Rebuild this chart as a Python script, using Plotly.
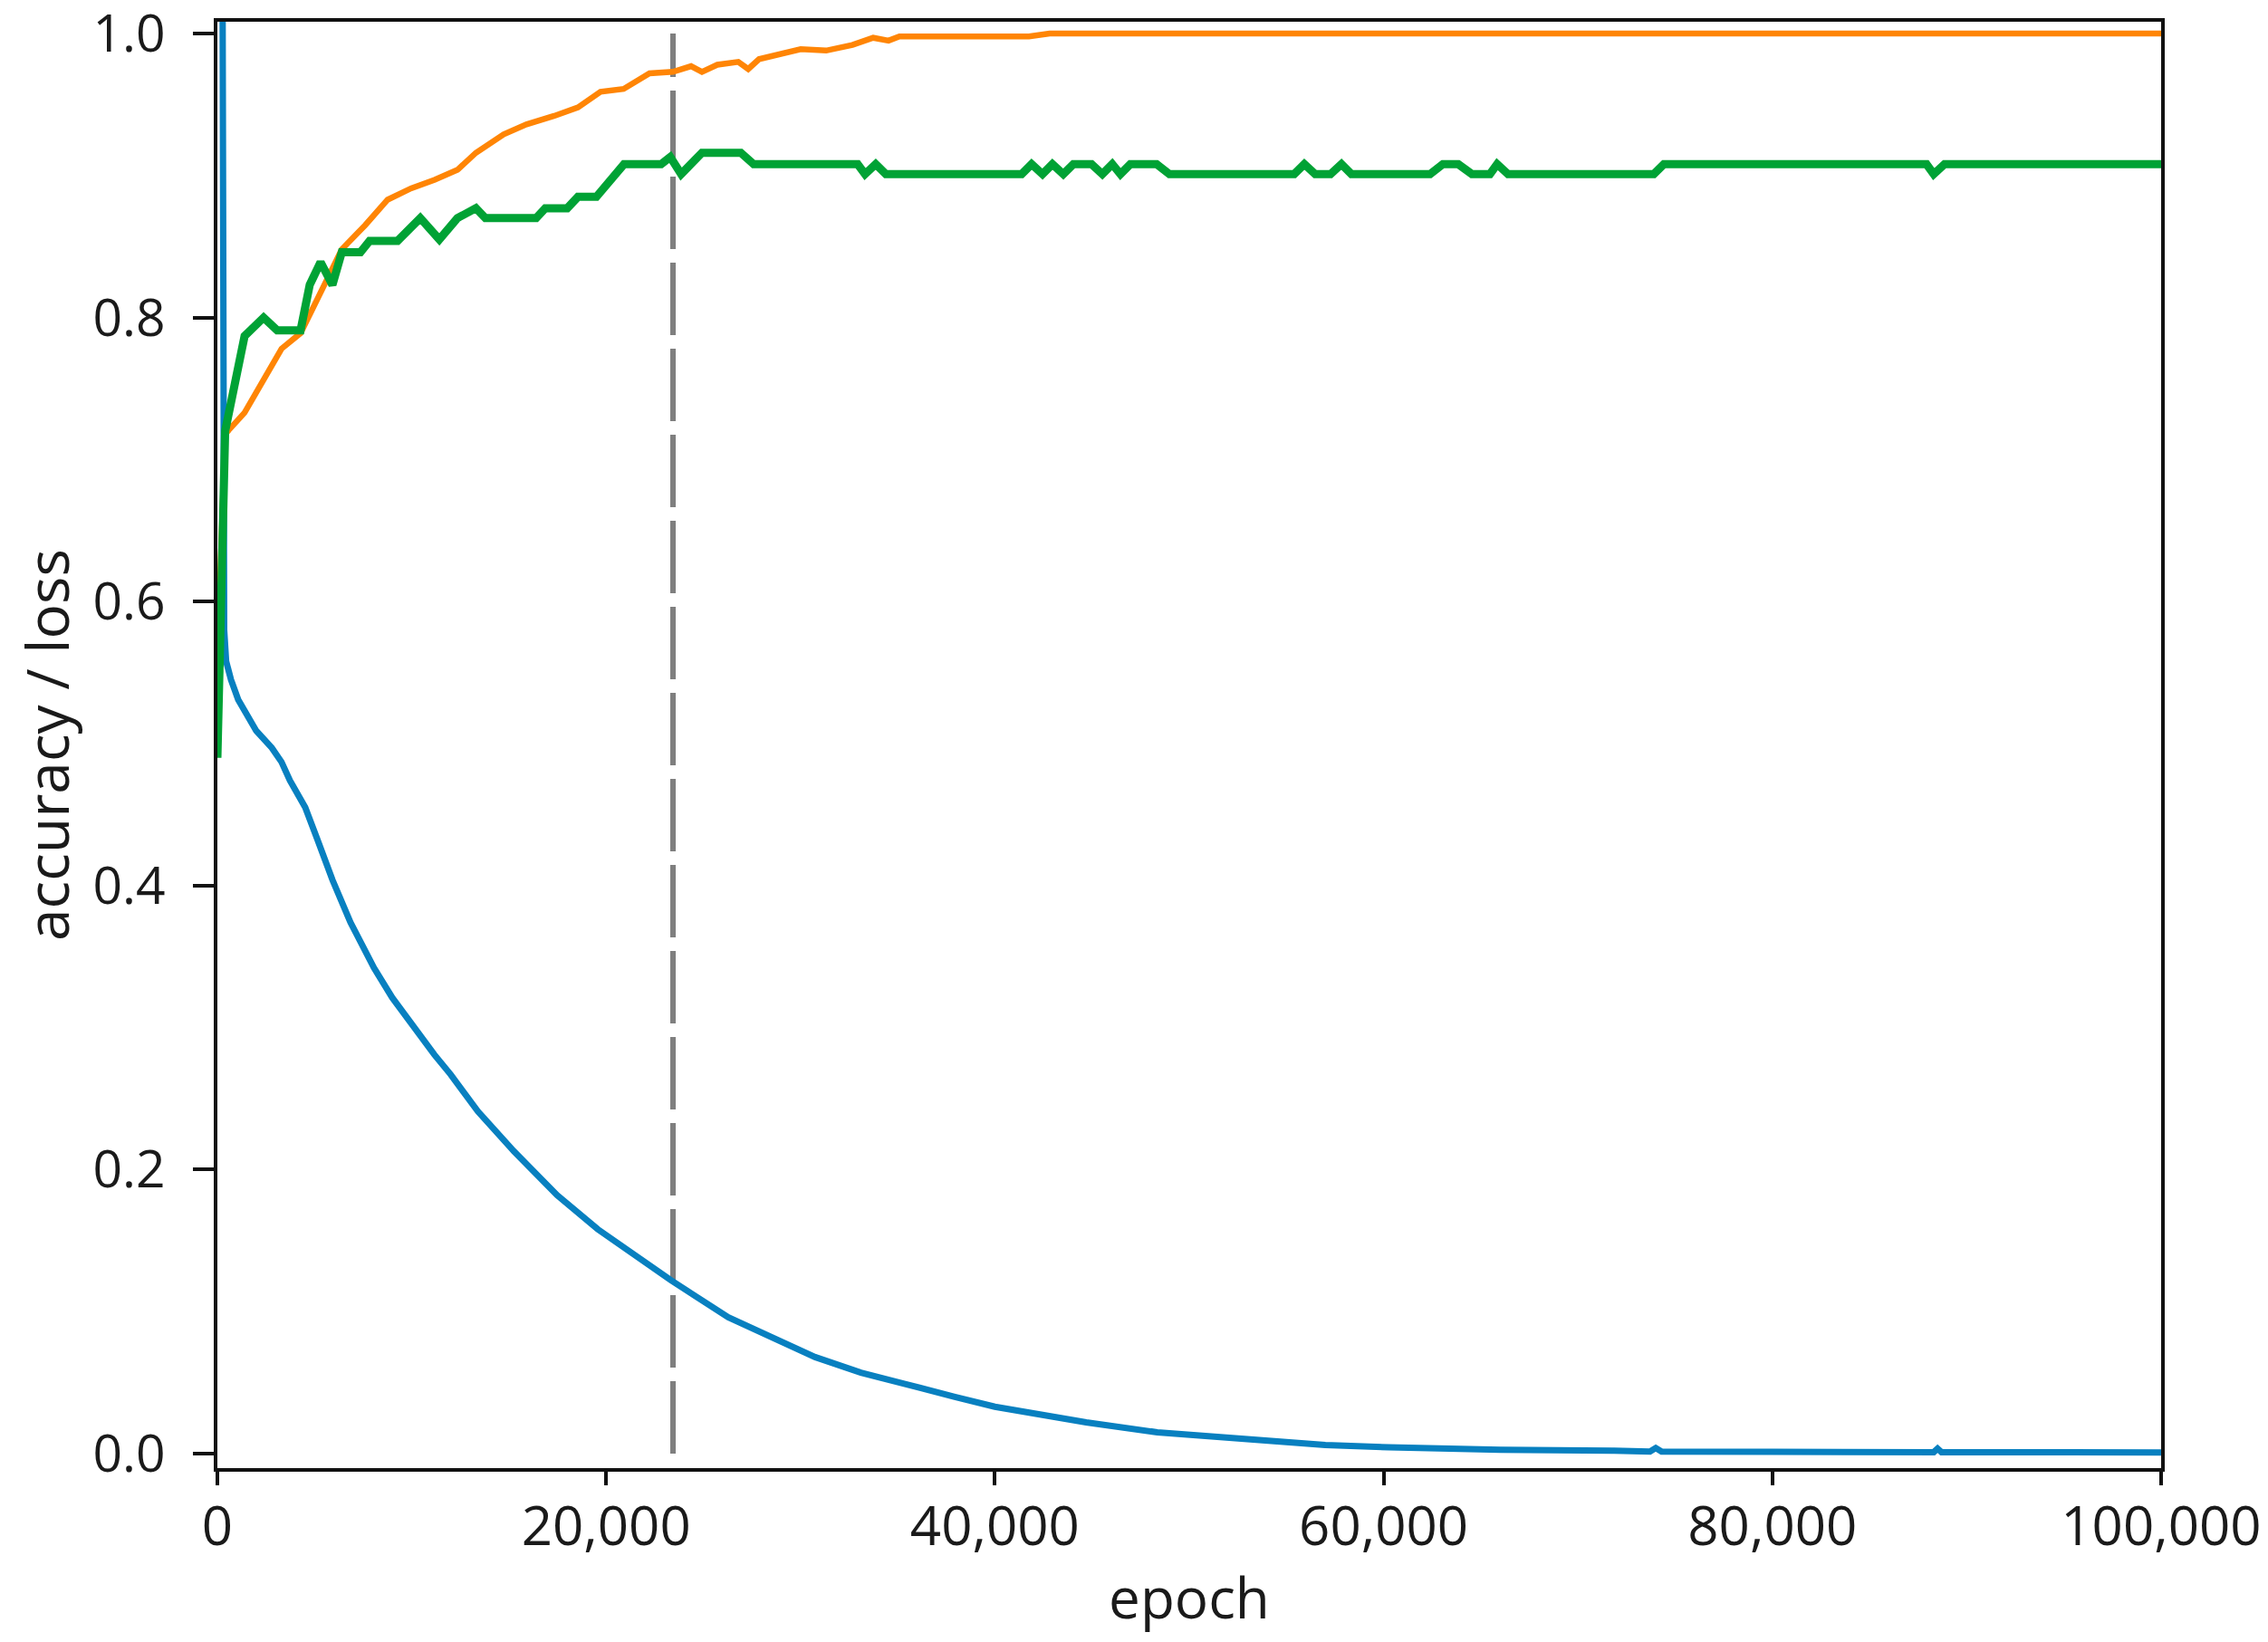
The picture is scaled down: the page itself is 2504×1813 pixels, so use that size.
import plotly.graph_objects as go

# training loss
loss_epoch = [0, 350, 450, 700, 1070, 1500, 2000, 2800, 3300, 3730, 4520, 5130,
              5920, 6850, 8060, 9000, 10400, 11160, 12000, 13400, 15250, 17480,
              19570, 21500, 23340, 26280, 28000, 29390, 30750, 33110, 35000, 37940,
              40000, 43150, 44700, 48360, 50560, 54310, 57000, 60250, 63000, 66000,
              71850, 73700, 74000, 74300, 80000, 88300, 88500, 88700, 100000]
loss_value = [2.5, 0.58, 0.558, 0.545, 0.531, 0.52, 0.509, 0.497, 0.487, 0.474,
              0.455, 0.433, 0.404, 0.374, 0.342, 0.321, 0.294, 0.281, 0.267, 0.241,
              0.213, 0.182, 0.158, 0.139, 0.122, 0.096, 0.085, 0.076, 0.068, 0.057,
              0.05, 0.04, 0.033, 0.025, 0.022, 0.015, 0.0125, 0.008, 0.006, 0.0045,
              0.0035, 0.0027, 0.002, 0.0015, 0.004, 0.0015, 0.0012, 0.001, 0.0035,
              0.001, 0.0008]

# training accuracy
train_epoch = [0, 400, 1400, 2380, 3300, 4280, 5220, 6400, 7600, 8760, 9970, 11180,
               12350, 13300, 14730, 15900, 17330, 18550, 19710, 20900, 22230, 23440,
               24370, 24930, 25720, 26800, 27310, 27870, 30010, 31320, 32670, 33740,
               34530, 35090, 41750, 42820, 100000]
train_acc = [0.56, 0.718, 0.733, 0.757, 0.778, 0.789, 0.816, 0.848, 0.865, 0.883,
             0.891, 0.897, 0.904, 0.916, 0.929, 0.936, 0.942, 0.948, 0.959, 0.961,
             0.972, 0.973, 0.977, 0.973, 0.978, 0.980, 0.975, 0.982, 0.989, 0.988,
             0.992, 0.997, 0.995, 0.998, 0.998, 1.0, 1.0]

# validation accuracy
val_epoch = [0, 400, 1400, 2380, 3080, 4280, 4750, 5310, 5920, 6400, 7360, 7830,
             9270, 10440, 11420, 12350, 13300, 13790, 16400, 16870, 18000, 18550,
             19500, 20920, 22830, 23300, 23860, 24930, 26930, 27590, 32940, 33320,
             33870, 34390, 41380, 41890, 42450, 42960, 43520, 44040, 44970, 45530,
             46040, 46460, 46970, 48320, 48980, 55400, 55920, 56480, 57270, 57830,
             58340, 62390, 63050, 63840, 64540, 65470, 65840, 66400, 73900, 74420,
             87930, 88300, 88860, 100000]
val_acc = [0.49, 0.72, 0.787, 0.800, 0.791, 0.791, 0.823, 0.839, 0.823, 0.846,
           0.846, 0.854, 0.854, 0.870, 0.855, 0.870, 0.877, 0.870, 0.870, 0.877,
           0.877, 0.885, 0.885, 0.908, 0.908, 0.913, 0.901, 0.916, 0.916, 0.908,
           0.908, 0.901, 0.908, 0.901, 0.901, 0.908, 0.901, 0.908, 0.901, 0.908,
           0.908, 0.901, 0.908, 0.901, 0.908, 0.908, 0.901, 0.901, 0.908, 0.901,
           0.901, 0.908, 0.901, 0.901, 0.908, 0.908, 0.901, 0.901, 0.908, 0.901,
           0.901, 0.908, 0.908, 0.901, 0.908, 0.908]

best_epoch = 23440
best_line_y = [0, 1.0]

x_ticks = [0, 20000, 40000, 60000, 80000, 100000]
y_ticks = [0.0, 0.2, 0.4, 0.6, 0.8, 1.0]

FONT = "Open Sans"

fig = go.Figure()

fig.add_trace(go.Scatter(
    x=[best_epoch, best_epoch], y=best_line_y, mode="lines",
    line=dict(color="#7f7f7f", width=6, dash="80px,15px"),
))
fig.add_trace(go.Scatter(
    x=loss_epoch, y=loss_value, mode="lines",
    line=dict(color="#0880c0", width=7),
))
fig.add_trace(go.Scatter(
    x=train_epoch, y=train_acc, mode="lines",
    line=dict(color="#ff8505", width=6.5),
))
fig.add_trace(go.Scatter(
    x=val_epoch, y=val_acc, mode="lines",
    line=dict(color="#00a235", width=9),
))

fig.update_layout(
    width=2504,
    height=1813,
    margin=dict(l=232, r=126, t=16, b=200),
    paper_bgcolor="white",
    plot_bgcolor="white",
    showlegend=False,
    font=dict(family=FONT, size=60, color="#1a1a1a"),
)

fig.update_xaxes(
    range=[0, 100000],
    tickvals=x_ticks,
    tickformat=",d",
    ticks="outside",
    ticklen=15,
    tickwidth=4,
    tickcolor="#111111",
    ticklabelstandoff=-6,
    ticklabeloverflow="allow",
    automargin=False,
    showline=True,
    linecolor="#111111",
    linewidth=4,
    mirror=True,
    showgrid=False,
    zeroline=False,
    title=dict(text="epoch", standoff=22, font=dict(family=FONT, size=62)),
)
fig.update_yaxes(
    range=[-0.0102, 1.0083],
    tickvals=y_ticks,
    tickformat=".1f",
    tickfont=dict(family=FONT, size=57),
    ticks="outside",
    ticklen=23,
    tickwidth=4,
    tickcolor="#111111",
    ticklabelstandoff=19,
    ticklabeloverflow="allow",
    automargin=False,
    showline=True,
    linecolor="#111111",
    linewidth=4,
    mirror=True,
    showgrid=False,
    zeroline=False,
    title=dict(text="accuracy / loss", standoff=48, font=dict(family=FONT, size=64)),
)

fig.write_html("out.html")
